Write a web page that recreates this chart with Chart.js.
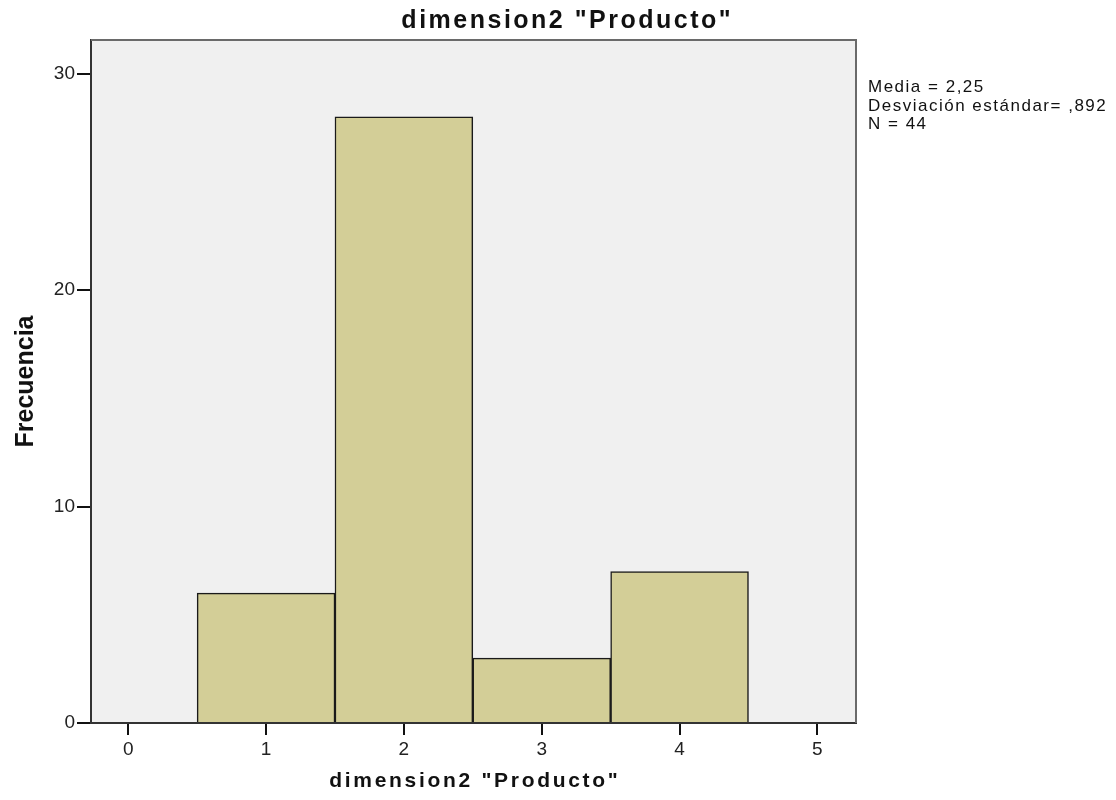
<!DOCTYPE html>
<html>
<head>
<meta charset="utf-8">
<title>dimension2 "Producto"</title>
<script src="https://cdn.jsdelivr.net/npm/chart.js@4.4.1/dist/chart.umd.min.js"></script>
<style>
    html, body { margin: 0; padding: 0; background: #fff; }
    #wrap { width: 1116px; height: 800px; position: relative; }
</style>
</head>
<body>
<div id="wrap"><canvas id="histChart"></canvas></div>
<script>
// data
const binCenters = [1, 2, 3, 4];
const frequencies = [6, 28, 3, 7];
const chartTitle = 'dimension2 "Producto"';
const xTitle = 'dimension2 "Producto"';
const yTitle = 'Frecuencia';
const statsLines = ['Media = 2,25', 'Desviación estándar= ,892', 'N = 44'];

const FONT = "'Liberation Sans', Arial, sans-serif";

// helper: draw spaced text (SPSS output is a bit wider than plain Arial)
function spacedText(ctx, text, x, y, font, spacing, align) {
    ctx.save();
    ctx.font = font;
    ctx.fillStyle = '#111';
    ctx.textBaseline = 'alphabetic';
    ctx.letterSpacing = spacing + 'px';
    ctx.textAlign = 'left';
    const w = ctx.measureText(text).width - spacing;
    let startX = x;
    if (align === 'center') startX = x - w / 2;
    ctx.fillText(text, startX, y);
    ctx.restore();
}

const spssDecor = {
    id: 'spssDecor',
    beforeDraw(chart) {
        const { ctx, chartArea: a } = chart;
        ctx.save();
        ctx.fillStyle = '#f0f0f0';
        ctx.fillRect(a.left, a.top, a.right - a.left, a.bottom - a.top);
        ctx.restore();
    },
    afterDraw(chart) {
        const { ctx, chartArea: a } = chart;

        // top and right frame lines
        ctx.save();
        ctx.strokeStyle = '#6a6a6a';
        ctx.lineWidth = 2;
        ctx.beginPath();
        ctx.moveTo(a.left, a.top);
        ctx.lineTo(a.right, a.top);
        ctx.lineTo(a.right, a.bottom);
        ctx.stroke();
        ctx.restore();

        // titles
        spacedText(ctx, chartTitle, 566, 28, 'bold 25px ' + FONT, 2.5, 'center');
        spacedText(ctx, xTitle, (a.left + a.right) / 2, 787, 'bold 21px ' + FONT, 2.7, 'center');

        ctx.save();
        ctx.translate(33, (a.top + a.bottom) / 2);
        ctx.rotate(-Math.PI / 2);
        spacedText(ctx, yTitle, 0, 0, 'bold 25px ' + FONT, 0, 'center');
        ctx.restore();

        // stats box text
        statsLines.forEach((line, i) => {
            spacedText(ctx, line, 868, 92 + i * 18.5, '17px ' + FONT, 1.5, 'left');
        });
    }
};

const ctx = document.getElementById('histChart').getContext('2d');

new Chart(ctx, {
    type: 'bar',
    data: {
        datasets: [{
            data: binCenters.map((x, i) => ({ x: x, y: frequencies[i] })),
            backgroundColor: '#d3ce97',
            borderColor: '#1a1a1a',
            borderWidth: 1.5,
            barPercentage: 1,
            categoryPercentage: 1
        }]
    },
    options: {
        responsive: true,
        maintainAspectRatio: false,
        animation: false,
        layout: { padding: { top: 40, right: 260, left: 0, bottom: 0 } },
        plugins: {
            legend: { display: false },
            tooltip: { enabled: false }
        },
        scales: {
            x: {
                type: 'linear',
                min: -0.27,
                max: 5.28,
                offset: false,
                afterFit: s => { s.height = 77; },
                ticks: {
                    stepSize: 1,
                    includeBounds: false,
                    color: '#222',
                    padding: 3,
                    font: { family: FONT, size: 19 }
                },
                grid: {
                    offset: false,
                    drawOnChartArea: false,
                    drawTicks: true,
                    tickLength: 12,
                    color: '#111',
                    lineWidth: 2
                },
                border: { display: true, color: '#333', width: 2 }
            },
            y: {
                min: 0,
                max: 31.55,
                afterFit: s => { s.width = 91; },
                ticks: {
                    stepSize: 10,
                    includeBounds: false,
                    color: '#222',
                    padding: 2,
                    font: { family: FONT, size: 19 }
                },
                grid: {
                    drawOnChartArea: false,
                    drawTicks: true,
                    tickLength: 14,
                    color: '#111',
                    lineWidth: 2
                },
                border: { display: true, color: '#333', width: 2 }
            }
        }
    },
    plugins: [spssDecor]
});
</script>
</body>
</html>
